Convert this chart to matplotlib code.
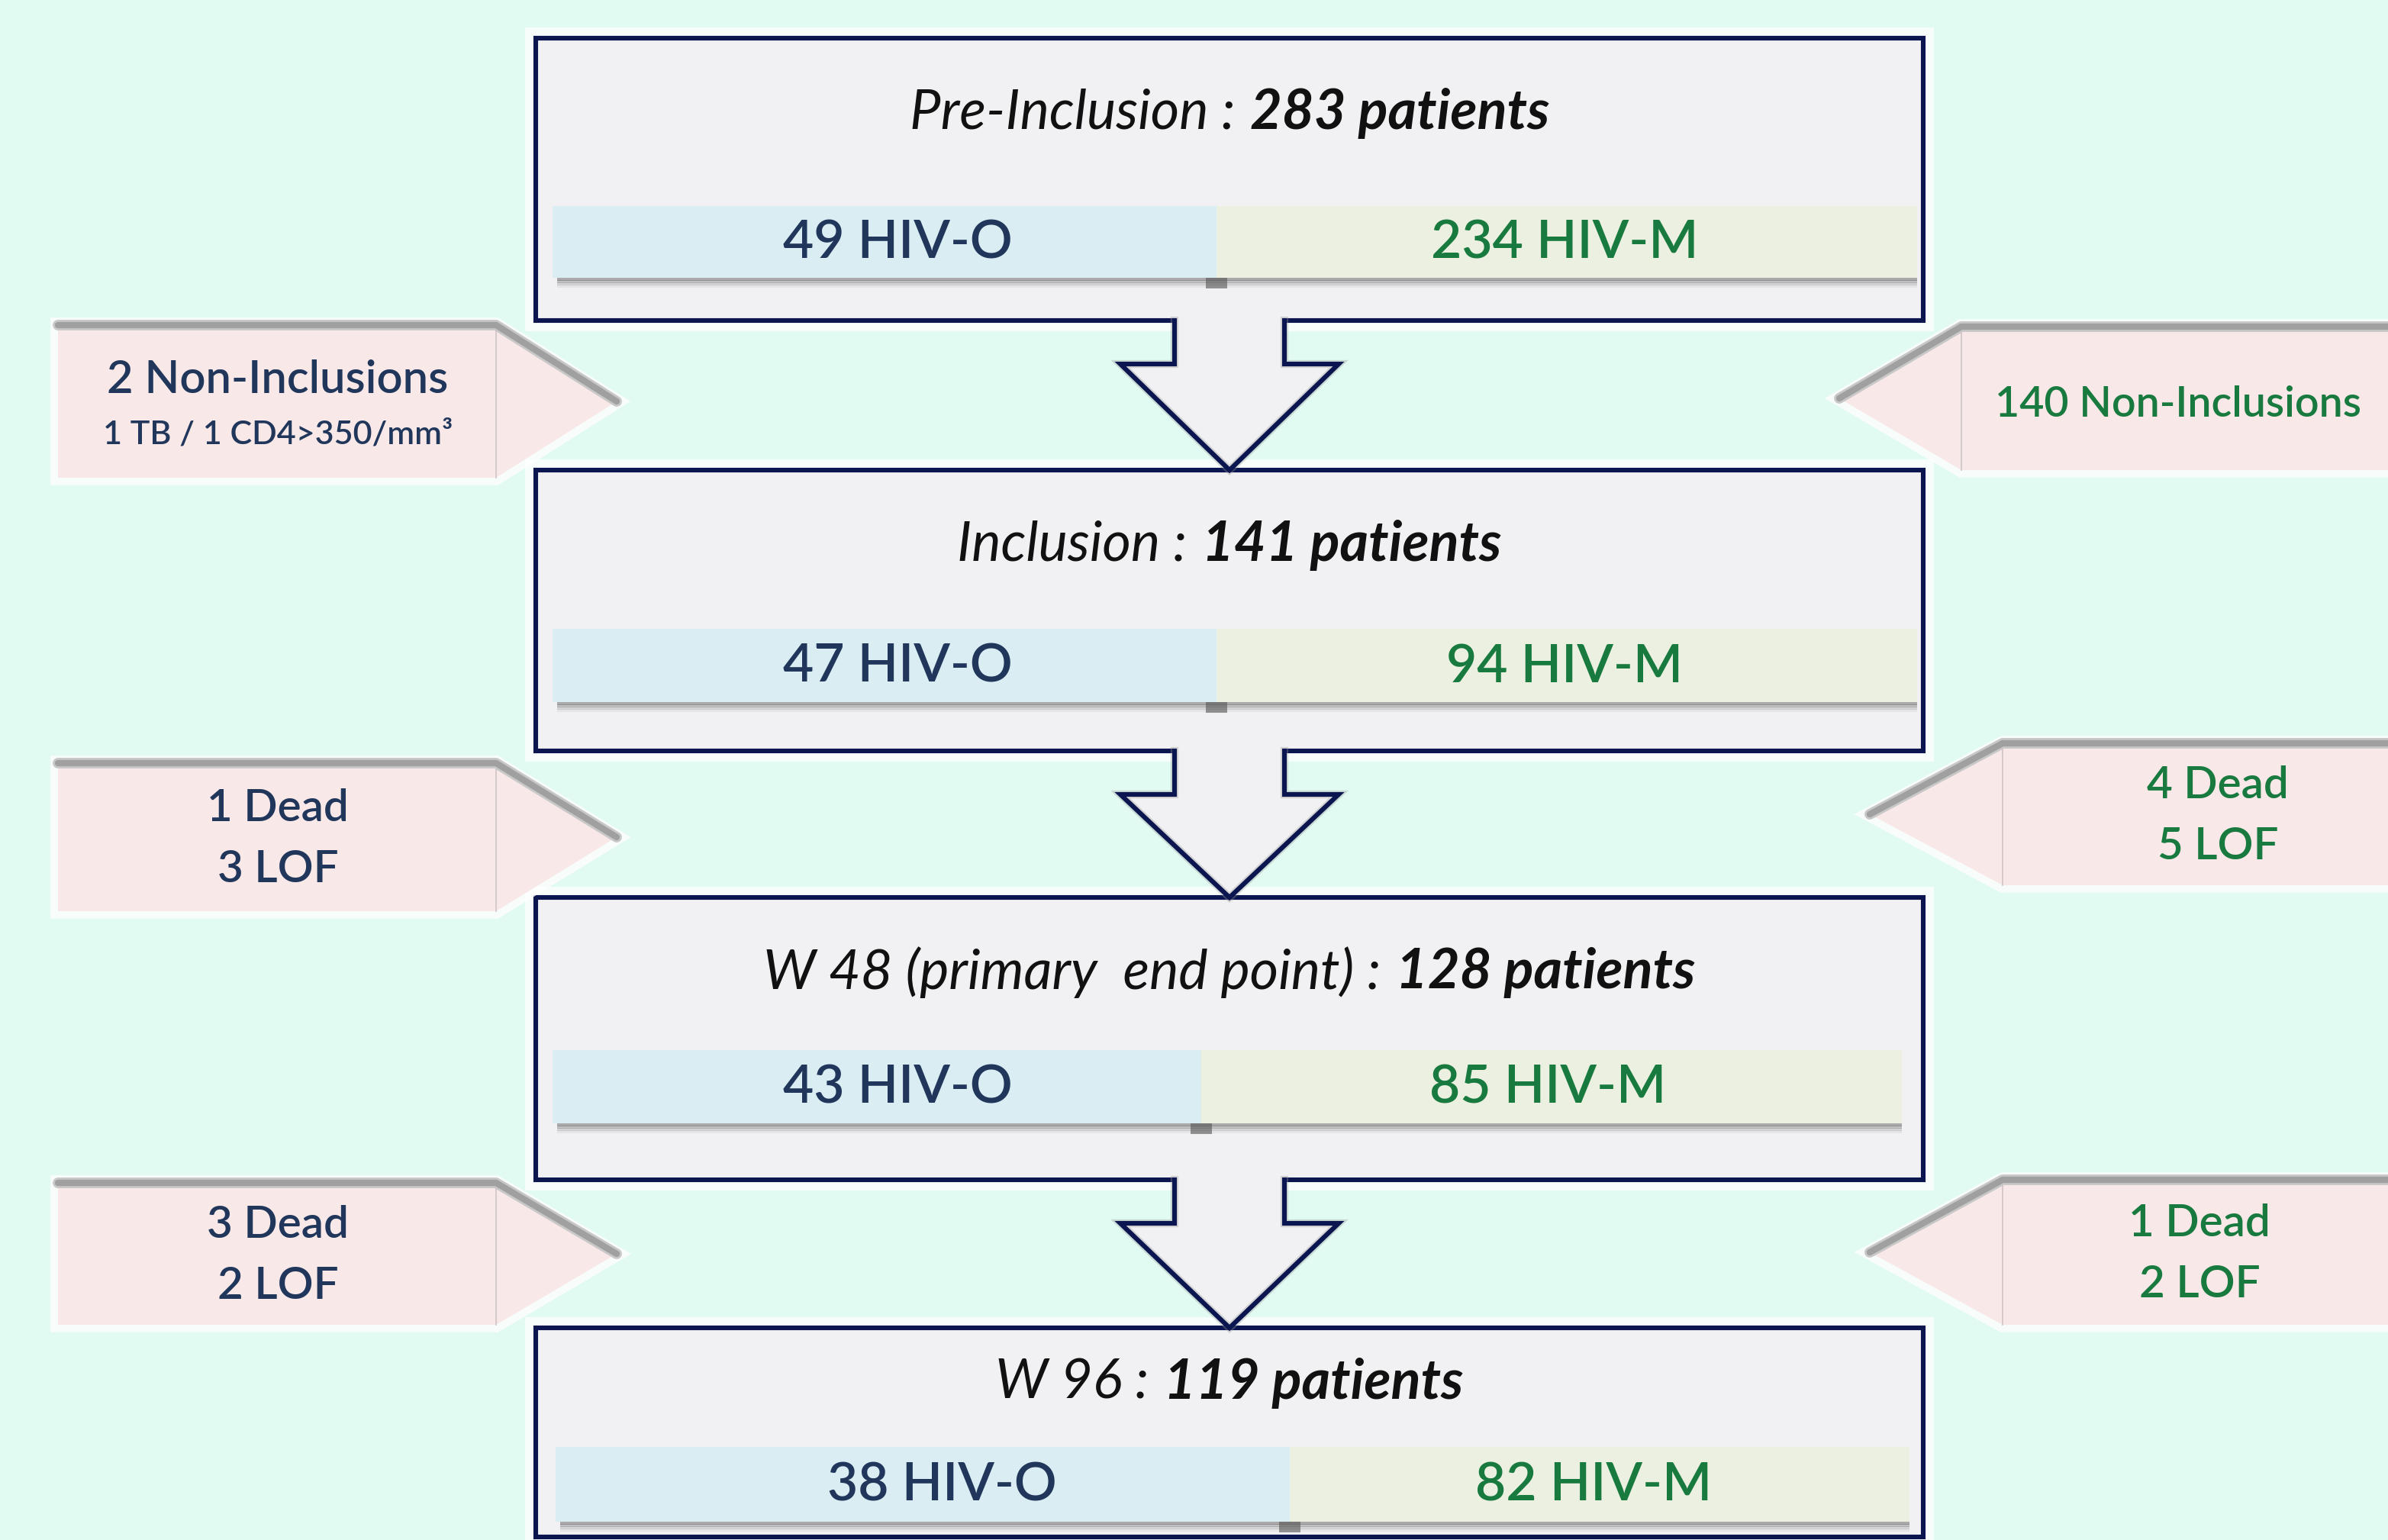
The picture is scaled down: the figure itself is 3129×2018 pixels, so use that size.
#!/usr/bin/env python3

import matplotlib
matplotlib.use('Agg')
import matplotlib.pyplot as plt
from matplotlib.patches import Rectangle, Polygon

# study flow data
stage_names = ['Pre-Inclusion', 'Inclusion', 'W 48 (primary  end point)', 'W 96']
stage_totals = [283, 141, 128, 119]
hiv_o = [49, 47, 43, 38]
hiv_m = [234, 94, 85, 82]
left_out = [['2 Non-Inclusions', '1 TB / 1 CD4>350/mm³'], ['1 Dead', '3 LOF'], ['3 Dead', '2 LOF']]
right_out = [['140 Non-Inclusions'], ['4 Dead', '5 LOF'], ['1 Dead', '2 LOF']]

# layout (pixels)
W, H = 3129, 2018
box_x0, box_x1 = 702, 2520
box_top = [50, 616, 1176, 1740]
box_bot = [420, 984, 1546, 2014]
bar_y = [(270, 364), (824, 920), (1376, 1472), (1896, 1994)]
bar_x = [(724, 2512), (724, 2512), (724, 2492), (728, 2502)]
bar_split = [1594, 1594, 1574, 1690]
title_y = [148, 714, 1274, 1812]
o_x = [1176, 1176, 1176, 1234]
m_x = [2050, 2050, 2028, 2088]
left_rows = [(426, 626), (1000, 1194), (1550, 1736)]
right_rows = [(428, 616), (974, 1160), (1546, 1736)]
right_rect_x = [2570, 2624, 2624]
right_tip_x = [2410, 2450, 2450]
right_text_x = [2614, 2906, 2882]

NAVY = '#0b1650'
BG = '#e1faf2'
BOXFILL = '#f1f1f3'
PINK = '#f8e8e8'
O_COL = '#20365a'
M_COL = '#187a3e'

plt.rcParams['font.family'] = ['Lato', 'DejaVu Sans']

fig = plt.figure(figsize=(W / 100, H / 100), dpi=100)
fig.patch.set_facecolor(BG)
ax = fig.add_axes([0, 0, 1, 1])
ax.set_xlim(0, W)
ax.set_ylim(H, 0)
ax.axis('off')
renderer = fig.canvas.get_renderer()
LW = 4.4  # ~6 px

cx = (box_x0 + box_x1) / 2

for i in range(4):
    # white glow + box
    ax.add_patch(Rectangle((box_x0 - 14, box_top[i] - 14), box_x1 - box_x0 + 28,
                           box_bot[i] - box_top[i] + 28, facecolor='white',
                           edgecolor='none', alpha=0.7, zorder=1))
    ax.add_patch(Rectangle((box_x0, box_top[i]), box_x1 - box_x0, box_bot[i] - box_top[i],
                           facecolor=BOXFILL, edgecolor=NAVY, lw=LW, zorder=2))
    # bars with bottom shadow
    y0, y1 = bar_y[i]
    xa, xb = bar_x[i]
    for k, a in enumerate([0.45, 0.3, 0.18, 0.08]):
        ax.add_patch(Rectangle((xa + 6, y1 + k * 3), xb - xa - 6, 4, facecolor='#555555',
                               edgecolor='none', alpha=a, zorder=3))
    ax.add_patch(Rectangle((bar_split[i] - 14, y1), 28, 14, facecolor='#555555',
                           edgecolor='none', alpha=0.6, zorder=3))
    ax.add_patch(Rectangle((xa, y0), bar_split[i] - xa, y1 - y0, facecolor='#d9edf3',
                           edgecolor='none', zorder=4))
    ax.add_patch(Rectangle((bar_split[i], y0), xb - bar_split[i], y1 - y0, facecolor='#ecf0e0',
                           edgecolor='none', zorder=4))
    ym = (y0 + y1) / 2
    ax.text(o_x[i], ym + 2, f'{hiv_o[i]} HIV-O', color=O_COL, fontsize=50, weight='semibold',
            ha='center', va='center', zorder=5)
    ax.text(m_x[i], ym + 2, f'{hiv_m[i]} HIV-M', color=M_COL, fontsize=50, weight='semibold',
            ha='center', va='center', zorder=5)
    # title: italic label + bold italic count
    t1 = ax.text(0, title_y[i], f'{stage_names[i]} :', style='italic', fontsize=52,
                 ha='left', va='center', color='#111111', zorder=5)
    t2 = ax.text(0, title_y[i], f'{stage_totals[i]} patients', style='italic',
                 weight='bold', fontsize=52, ha='left', va='center', color='#111111', zorder=5)
    w1 = t1.get_window_extent(renderer).width
    w2 = t2.get_window_extent(renderer).width
    gap = 20
    start = cx - (w1 + gap + w2) / 2
    t1.set_x(start)
    t2.set_x(start + w1 + gap)

# down arrows between boxes
sh, hh = 72, 143
for i in range(3):
    yb, yt = box_bot[i], box_top[i + 1]
    yh = yb + 57
    pts = [(cx - sh, yb - 4), (cx - sh, yh), (cx - hh, yh), (cx, yt),
           (cx + hh, yh), (cx + sh, yh), (cx + sh, yb - 4)]
    ax.add_patch(Polygon(pts, closed=True, facecolor=BOXFILL, edgecolor='none', zorder=6))
    xs, ys = zip(*[(cx - sh, yb), (cx - sh, yh), (cx - hh, yh), (cx, yt),
                   (cx + hh, yh), (cx + sh, yh), (cx + sh, yb)])
    ax.plot(xs, ys, color='#999999', lw=LW + 3, alpha=0.35, solid_joinstyle='miter', zorder=6)
    ax.plot(xs, ys, color=NAVY, lw=LW, solid_joinstyle='miter', zorder=7)


def callout(x_rect0, x_rect1, x_tip, y0, y1, point_right):
    ym = (y0 + y1) / 2
    if point_right:
        pts = [(x_rect0, y0), (x_rect1, y0), (x_tip, ym), (x_rect1, y1), (x_rect0, y1)]
        top = [(x_rect0, y0), (x_rect1, y0), (x_tip, ym)]
        seam = x_rect1
    else:
        pts = [(x_rect1, y0), (x_rect0, y0), (x_tip, ym), (x_rect0, y1), (x_rect1, y1)]
        top = [(x_rect1, y0), (x_rect0, y0), (x_tip, ym)]
        seam = x_rect0
    ax.add_patch(Polygon(pts, closed=True, facecolor='white', edgecolor='white',
                         lw=14, alpha=0.8, zorder=8))
    ax.add_patch(Polygon(pts, closed=True, facecolor=PINK, edgecolor='none', zorder=9))
    tx, ty = zip(*top)
    ax.plot(tx, ty, color='#c8c8c8', lw=10, solid_capstyle='round', zorder=10)
    ax.plot(tx, ty, color='#a0a0a0', lw=6, solid_capstyle='round', zorder=10)
    ax.plot([seam, seam], [y0 + 6, y1], color='#cfc5c5', lw=1.2, zorder=10)


for i in range(3):
    y0, y1 = left_rows[i]
    callout(76, 650, 808, y0, y1, True)
    lines = left_out[i]
    if len(lines[1]) > 8:
        ax.text(364, y0 + 72, lines[0], color=O_COL, fontsize=43, weight='semibold',
                ha='center', va='center', zorder=11)
        ax.text(364, y0 + 143, lines[1], color=O_COL, fontsize=31, weight='semibold',
                ha='center', va='center', zorder=11)
    else:
        ax.text(364, (y0 + y1) / 2 - 38, lines[0], color=O_COL, fontsize=42, weight='semibold',
                ha='center', va='center', zorder=11)
        ax.text(364, (y0 + y1) / 2 + 42, lines[1], color=O_COL, fontsize=42, weight='semibold',
                ha='center', va='center', zorder=11)

    y0, y1 = right_rows[i]
    callout(right_rect_x[i], W + 40, right_tip_x[i], y0, y1, False)
    lines = right_out[i]
    if len(lines) == 1:
        ax.text(right_text_x[i], (y0 + y1) / 2 + 8, lines[0], color=M_COL, fontsize=40,
                weight='semibold', ha='left', va='center', zorder=11)
    else:
        ax.text(right_text_x[i], (y0 + y1) / 2 - 38, lines[0], color=M_COL, fontsize=42,
                weight='semibold', ha='center', va='center', zorder=11)
        ax.text(right_text_x[i], (y0 + y1) / 2 + 42, lines[1], color=M_COL, fontsize=42,
                weight='semibold', ha='center', va='center', zorder=11)

plt.savefig('out.png', dpi=100, facecolor=BG)
